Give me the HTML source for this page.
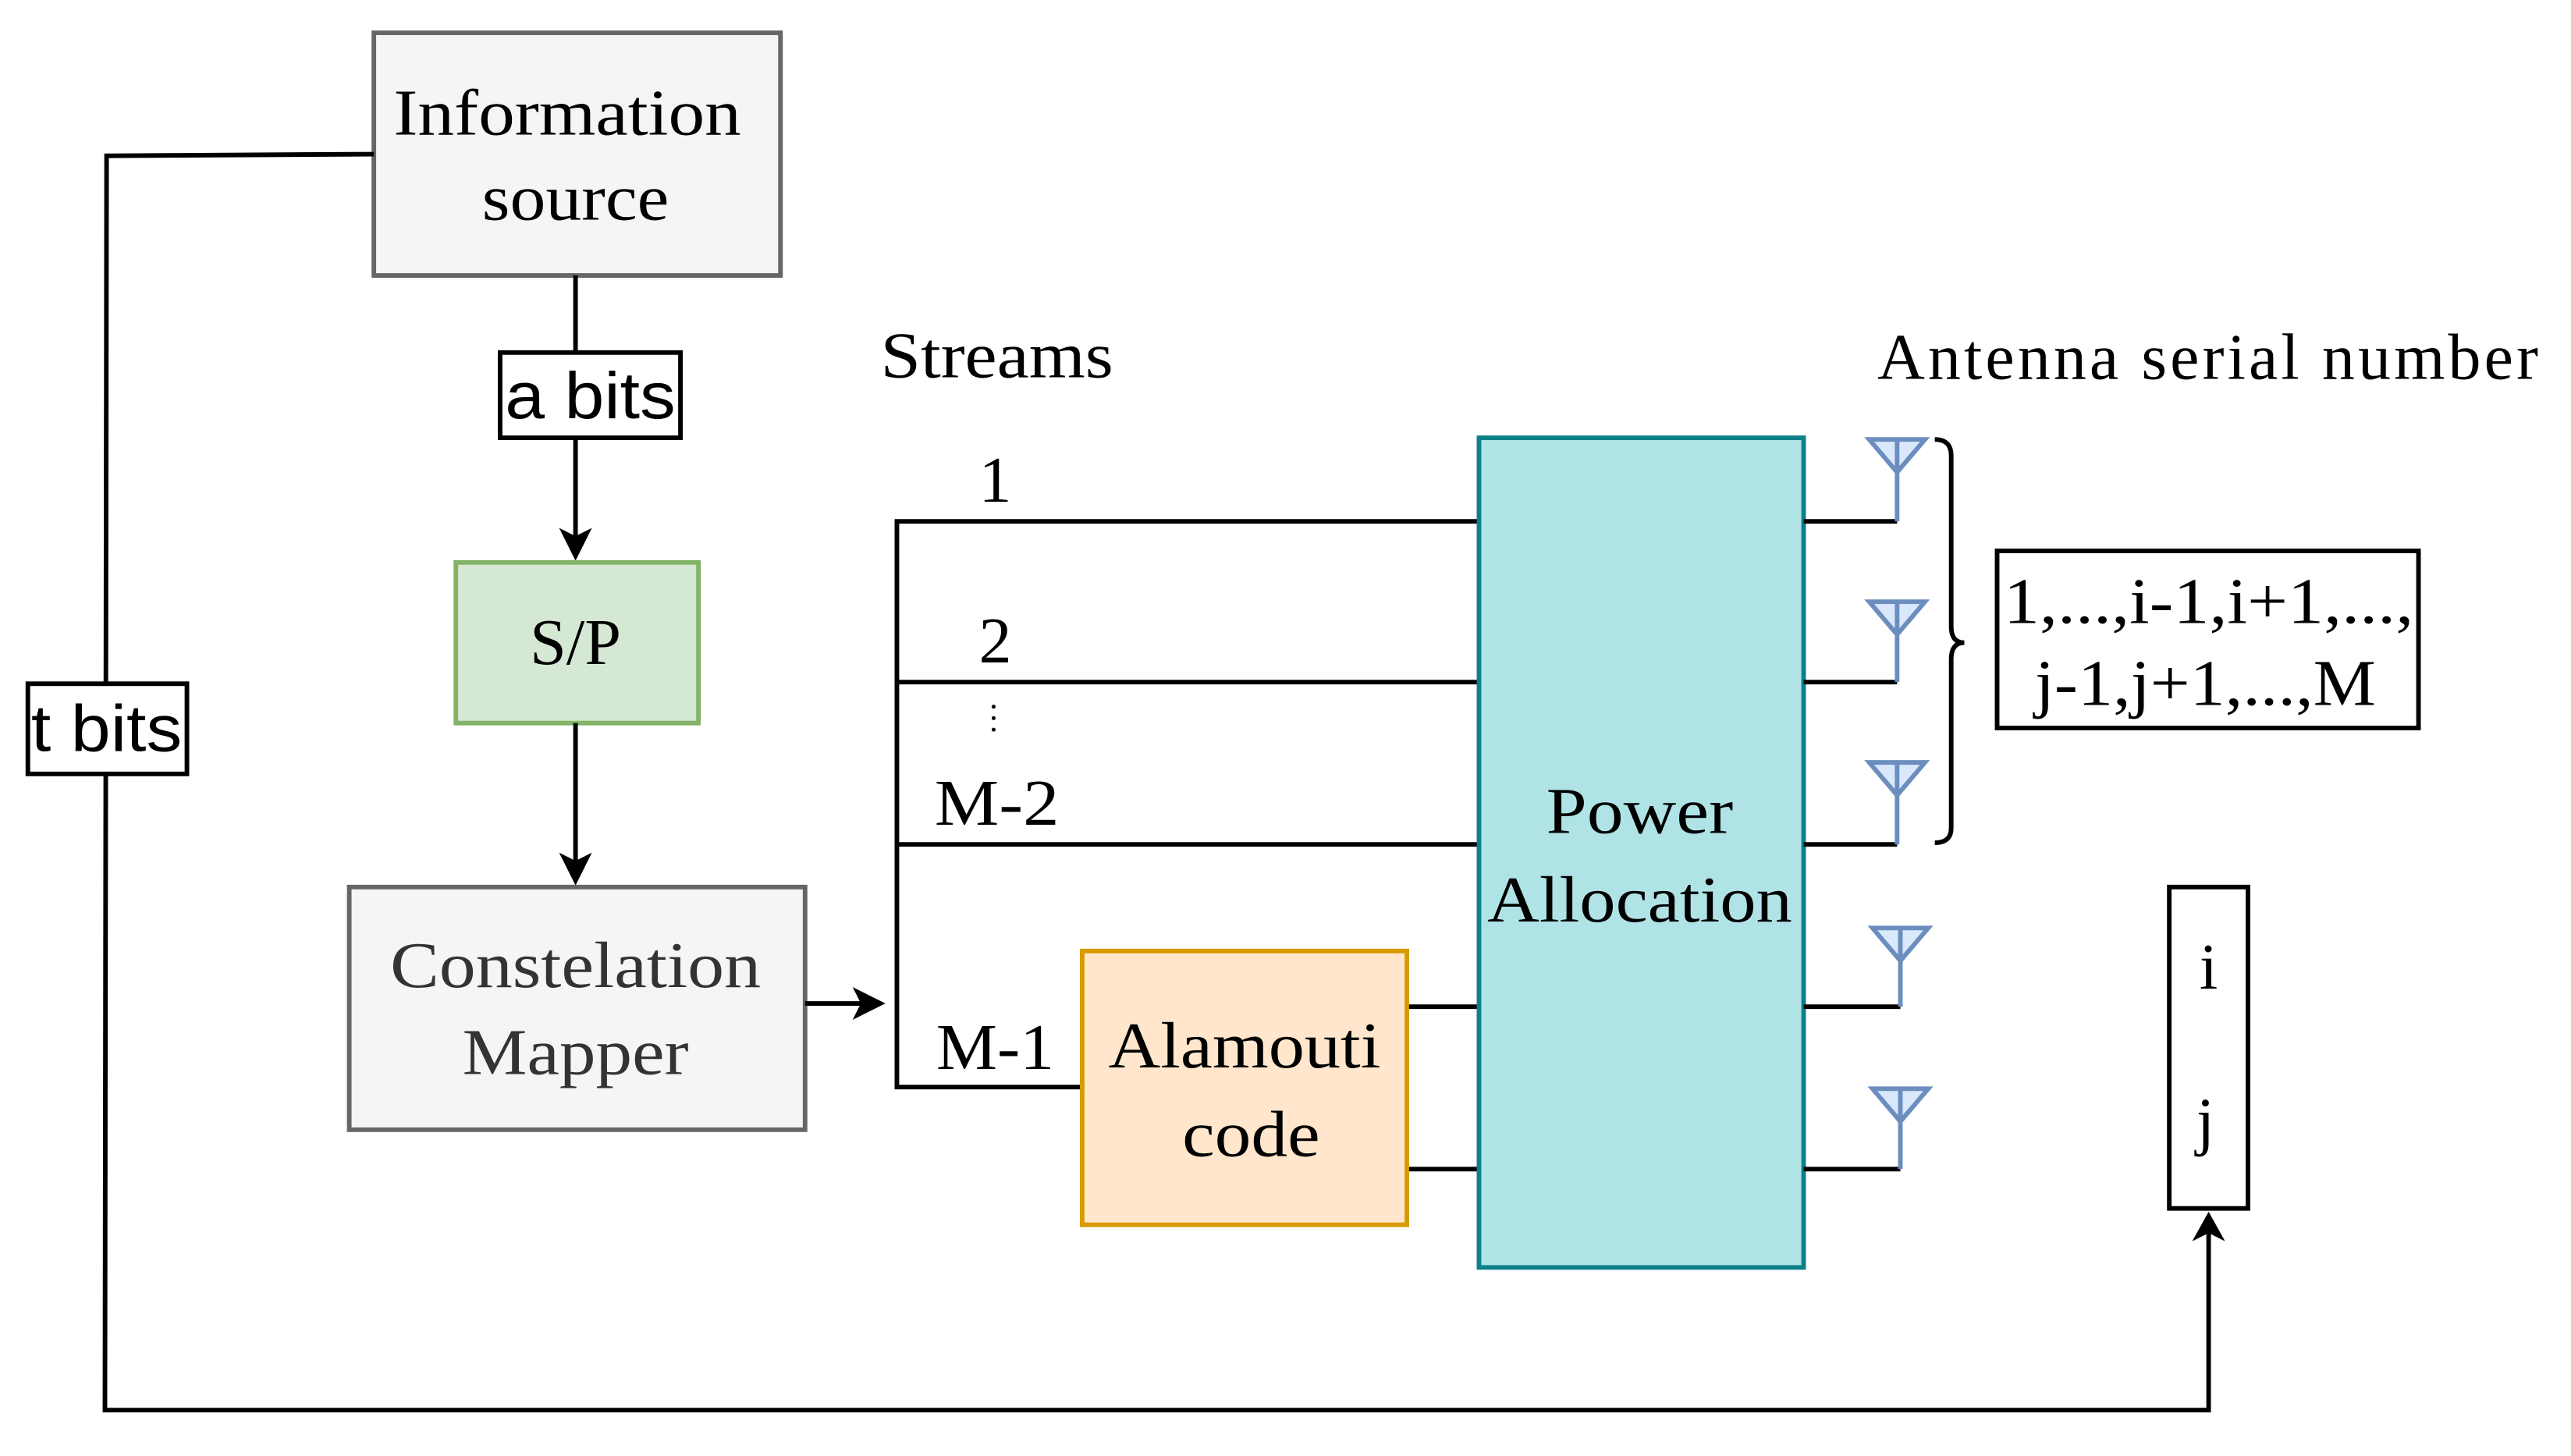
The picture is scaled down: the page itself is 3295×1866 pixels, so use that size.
<!DOCTYPE html>
<html><head><meta charset="utf-8"><style>html,body{margin:0;padding:0;background:#fff}svg{display:block}</style></head>
<body>
<svg width="3295" height="1866" viewBox="0 0 1568 888" preserveAspectRatio="none" xmlns="http://www.w3.org/2000/svg">
<g font-family="'Liberation Serif', serif" fill="#000">
<rect x="228" y="20" width="248" height="148" fill="#f5f5f5" stroke="#666" stroke-width="2.8"/>
<text x="346" y="82" font-size="40" text-anchor="middle" textLength="212" lengthAdjust="spacingAndGlyphs">Information</text>
<text x="351" y="134" font-size="40" text-anchor="middle" textLength="114" lengthAdjust="spacingAndGlyphs">source</text>
<polyline points="228,94 65,95 64,860 1347,860 1347,745" fill="none" stroke="#000" stroke-width="2.8"/>
<path d="M1347,739 L1337,757 L1347,752 L1357,757 Z" fill="#000"/>
<rect x="17" y="417" width="97" height="55" fill="#fff" stroke="#000" stroke-width="2.8"/>
<text x="65" y="458" font-family="'Liberation Sans', sans-serif" font-size="40" text-anchor="middle" textLength="92" lengthAdjust="spacingAndGlyphs">t bits</text>
<line x1="351" y1="168" x2="351" y2="215" stroke="#000" stroke-width="2.8"/>
<rect x="305" y="215" width="110" height="52" fill="#fff" stroke="#000" stroke-width="2.8"/>
<text x="360" y="255" font-family="'Liberation Sans', sans-serif" font-size="40" text-anchor="middle" textLength="104" lengthAdjust="spacingAndGlyphs">a bits</text>
<line x1="351" y1="267" x2="351" y2="330" stroke="#000" stroke-width="2.8"/>
<path d="M351,342 L341,322 L351,327 L361,322 Z" fill="#000"/>
<rect x="278" y="343" width="148" height="98" fill="#d5e8d4" stroke="#82b366" stroke-width="2.8"/>
<text x="351" y="405" font-size="40" text-anchor="middle">S/P</text>
<line x1="351" y1="441" x2="351" y2="528" stroke="#000" stroke-width="2.8"/>
<path d="M351,540 L341,520 L351,525 L361,520 Z" fill="#000"/>
<rect x="213" y="541" width="278" height="148" fill="#f5f5f5" stroke="#666" stroke-width="2.8"/>
<text x="351" y="602" font-size="40" fill="#333" text-anchor="middle" textLength="226" lengthAdjust="spacingAndGlyphs">Constelation</text>
<text x="351" y="655" font-size="40" fill="#333" text-anchor="middle" textLength="138" lengthAdjust="spacingAndGlyphs">Mapper</text>
<line x1="491" y1="612" x2="528" y2="612" stroke="#000" stroke-width="2.8"/>
<path d="M540,612 L520,602 L525,612 L520,622 Z" fill="#000"/>
<polyline points="902,318 547,318 547,663 660,663" fill="none" stroke="#000" stroke-width="2.8"/>
<line x1="547" y1="416" x2="902" y2="416" stroke="#000" stroke-width="2.8"/>
<line x1="547" y1="515" x2="902" y2="515" stroke="#000" stroke-width="2.8"/>
<line x1="858" y1="614" x2="902" y2="614" stroke="#000" stroke-width="2.8"/>
<line x1="858" y1="713" x2="902" y2="713" stroke="#000" stroke-width="2.8"/>
<text x="608" y="230" font-size="40" text-anchor="middle" textLength="142" lengthAdjust="spacingAndGlyphs">Streams</text>
<text x="607" y="306" font-size="40" text-anchor="middle">1</text>
<text x="607" y="404" font-size="40" text-anchor="middle">2</text>
<circle cx="606" cy="431" r="1.2"/><circle cx="606" cy="438" r="1.2"/><circle cx="606" cy="445" r="1.2"/>
<text x="608" y="503" font-size="40" text-anchor="middle" textLength="76" lengthAdjust="spacingAndGlyphs">M-2</text>
<text x="607" y="652" font-size="40" text-anchor="middle" textLength="72" lengthAdjust="spacingAndGlyphs">M-1</text>
<rect x="660" y="580" width="198" height="167" fill="#ffe6cc" stroke="#d79b00" stroke-width="2.8"/>
<text x="759" y="651" font-size="40" text-anchor="middle" textLength="166" lengthAdjust="spacingAndGlyphs">Alamouti</text>
<text x="763" y="705" font-size="40" text-anchor="middle" textLength="84" lengthAdjust="spacingAndGlyphs">code</text>
<rect x="902" y="267" width="198" height="506" fill="#b0e3e6" stroke="#0e8088" stroke-width="2.8"/>
<text x="1000" y="508" font-size="40" text-anchor="middle" textLength="114" lengthAdjust="spacingAndGlyphs">Power</text>
<text x="1000" y="562" font-size="40" text-anchor="middle" textLength="186" lengthAdjust="spacingAndGlyphs">Allocation</text>
<g stroke-width="2.8">
<line x1="1100" y1="318" x2="1157" y2="318" stroke="#000"/><path d="M1140,268 L1174,268 L1157,288 Z M1157,268 L1157,318" fill="#dae8fc" stroke="#6c8ebf"/>
<line x1="1100" y1="416" x2="1157" y2="416" stroke="#000"/><path d="M1140,367 L1174,367 L1157,387 Z M1157,367 L1157,416" fill="#dae8fc" stroke="#6c8ebf"/>
<line x1="1100" y1="515" x2="1157" y2="515" stroke="#000"/><path d="M1140,465 L1174,465 L1157,485 Z M1157,465 L1157,515" fill="#dae8fc" stroke="#6c8ebf"/>
<line x1="1100" y1="614" x2="1159" y2="614" stroke="#000"/><path d="M1142,566 L1176,566 L1159,586 Z M1159,566 L1159,614" fill="#dae8fc" stroke="#6c8ebf"/>
<line x1="1100" y1="713" x2="1159" y2="713" stroke="#000"/><path d="M1142,664 L1176,664 L1159,684 Z M1159,664 L1159,713" fill="#dae8fc" stroke="#6c8ebf"/>
</g>
<path d="M1180,268 Q1190,268 1190,278 L1190,382 Q1190,392 1198,392 Q1190,392 1190,402 L1190,505 Q1190,514 1180,514" fill="none" stroke="#000" stroke-width="2.8"/>
<text x="1145" y="231" font-size="40" textLength="403" lengthAdjust="spacing">Antenna serial number</text>
<rect x="1218" y="336" width="257" height="108" fill="#fff" stroke="#000" stroke-width="2.8"/>
<text x="1347" y="380" font-size="40" text-anchor="middle" textLength="250" lengthAdjust="spacingAndGlyphs">1,...,i-1,i+1,...,</text>
<text x="1345" y="430" font-size="40" text-anchor="middle" textLength="208" lengthAdjust="spacingAndGlyphs">j-1,j+1,...,M</text>
<rect x="1323" y="541" width="48" height="196" fill="#fff" stroke="#000" stroke-width="2.8"/>
<text x="1347" y="603" font-size="40" text-anchor="middle">i</text>
<text x="1345" y="697" font-size="40" text-anchor="middle">j</text>
</g>
</svg>
</body></html>
